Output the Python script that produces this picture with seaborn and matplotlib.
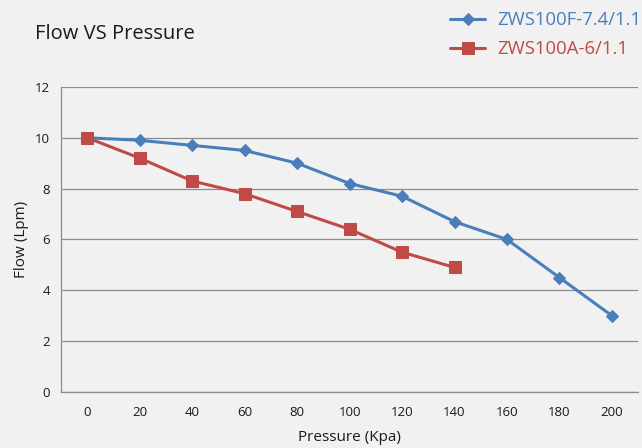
import pandas as pd
import matplotlib.pyplot as plt
import seaborn as sns
from matplotlib.ticker import MultipleLocator

# 데이터
pressure = [0, 20, 40, 60, 80, 100, 120, 140, 160, 180, 200]
flow_f = [10.0, 9.9, 9.7, 9.5, 9.0, 8.2, 7.7, 6.7, 6.0, 4.5, 3.0]
flow_a = [10.0, 9.2, 8.3, 7.8, 7.1, 6.4, 5.5, 4.9]
name_f = 'ZWS100F-7.4/1.1'
name_a = 'ZWS100A-6/1.1'

blue = '#4a7ebb'
red = '#be4b48'
bg = '#f1f1f1'

sns.set_style('white')
plt.rcParams['font.family'] = ['Open Sans', 'DejaVu Sans']

df_f = pd.DataFrame({'Pressure': pressure, 'Flow': flow_f})
df_a = pd.DataFrame({'Pressure': pressure[:len(flow_a)], 'Flow': flow_a})

fig = plt.figure(figsize=(6.42, 4.48), dpi=100, facecolor=bg)
ax = fig.add_axes([0.095, 0.125, 0.899, 0.681], facecolor=bg)

sns.lineplot(data=df_f, x='Pressure', y='Flow', ax=ax, color=blue, lw=2.2,
             marker='D', markersize=6, markeredgecolor=blue, label=name_f)
sns.lineplot(data=df_a, x='Pressure', y='Flow', ax=ax, color=red, lw=2.2,
             marker='s', markersize=8.5, markeredgecolor=red, label=name_a)

ax.set_xlim(-10, 210)
ax.set_ylim(0, 12)
ax.set_xticks(pressure)
ax.xaxis.set_minor_locator(MultipleLocator(20, offset=10))
ax.set_yticks(range(0, 13, 2))
ax.tick_params(axis='x', which='major', length=0, pad=10, labelsize=9.5, colors='#1a1a1a')
ax.tick_params(axis='x', which='minor', length=4, color='#888888', direction='out')
ax.tick_params(axis='y', length=0, pad=8, labelsize=9.5, colors='#1a1a1a')
ax.grid(axis='y', color='#8c8c8c', lw=0.9)
ax.set_axisbelow(True)
for s in ['top', 'right']:
    ax.spines[s].set_visible(False)
for s in ['left', 'bottom']:
    ax.spines[s].set_color('#8c8c8c')
    ax.spines[s].set_linewidth(0.9)

ax.set_xlabel('Pressure (Kpa)', fontsize=11, color='#1a1a1a', labelpad=8)
ax.set_ylabel('Flow (Lpm)', fontsize=11, color='#1a1a1a', labelpad=4)

fig.text(0.054, 0.925, 'Flow VS Pressure', fontsize=14.5, color='#1a1a1a', va='center')

handles, labels = ax.get_legend_handles_labels()
ax.get_legend().remove()
fig.legend(handles, labels, loc='upper right', bbox_to_anchor=(1.025, 1.012),
           frameon=False, fontsize=13.3, labelcolor='linecolor',
           handlelength=1.9, handletextpad=0.65, labelspacing=0.6)

plt.savefig('out.png', dpi=100, facecolor=bg)
